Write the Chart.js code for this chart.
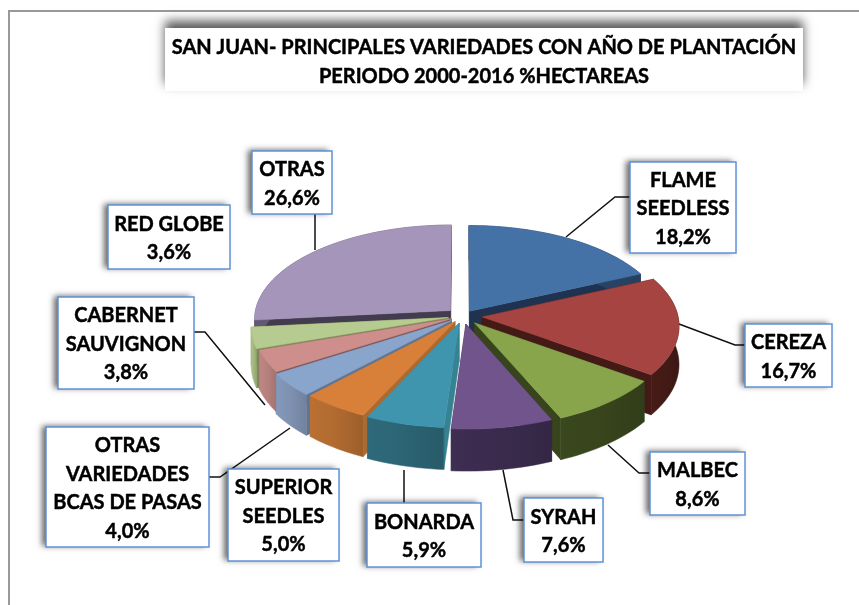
<!DOCTYPE html>
<html><head><meta charset="utf-8">
<style>html,body{margin:0;padding:0;background:#fff}#w{width:859px;height:605px;position:relative}</style>
<script src="https://cdn.jsdelivr.net/npm/chart.js@4"></script></head>
<body><div id="w"><canvas id="c"></canvas></div>
<script>
// --- data ---
const categories = ["FLAME SEEDLESS","CEREZA","MALBEC","SYRAH","BONARDA","SUPERIOR SEEDLES","OTRAS VARIEDADES BCAS DE PASAS","CABERNET SAUVIGNON","RED GLOBE","OTRAS"];
const values = [18.2,16.7,8.6,7.6,5.9,5.0,4.0,3.8,3.6,26.6];
const titleLines = ["SAN JUAN- PRINCIPALES VARIEDADES CON AÑO DE PLANTACIÓN","PERIODO 2000-2016 %HECTAREAS"];
const labelLines = [["FLAME","SEEDLESS"],["CEREZA"],["MALBEC"],["SYRAH"],["BONARDA"],["SUPERIOR","SEEDLES"],["OTRAS","VARIEDADES","BCAS DE PASAS"],["CABERNET","SAUVIGNON"],["RED GLOBE"],["OTRAS"]];
// --- styles ---
const topColors  = ["#4471a6","#a54441","#88a54c","#71548c","#3f94ae","#d8803a","#8aa5cc","#cd8e8c","#b5cb8f","#a695bb"];
const wallColors = ["#2b476b","#431a16","#37441c","#3a2b4d","#2c6473","#b06a30","#7d90b0","#b57f7c","#a3b67f","#5e5370"];
const cutColors  = ["#1f3350","#431a16","#37441c","#33253f","#368292","#ad6a30","#5f7492","#7d5755","#7a8c55","#433b4e"];
const offsets    = [12,19,18,17,15,14,15,13,15,17];
// label boxes: x0,y0,x1,y1
const boxes = [[630,162,736,253],[745,324,832,387],[650,452,745,515],[524,498,603,562],[367,503,481,567],[228,469,339,561],[46,427,209,547],[58,297,194,389],[108,205,230,269],[252,151,332,214]];
const leaders = [[[566,237],[615,197],[630,197]],[[679,324],[735,345],[745,345]],[[608,445],[639,473],[650,473]],[[503,470],[513,520],[524,520]],[[404,470],[404,503]],null,[[290,428],[220,477],[209,477]],[[265,405],[205,332],[194,332]],null,[[315,250],[315,214]]];
const LABEL_FONT = 'bold 20px Lato, "Open Sans", sans-serif';
const TITLE_FONT = 'bold 20px Lato, "Open Sans", sans-serif';

const K = 0.48, Q = 0.09/198, DEPTH = 38;
function pct(v){return v.toFixed(1).replace('.',',')+'%';}
function shade(hex,f){const n=parseInt(hex.slice(1),16);const c=[n>>16,(n>>8)&255,n&255].map(v=>Math.min(255,Math.round(v*f)));return `rgb(${c[0]},${c[1]},${c[2]})`;}
function heavyText(ctx,t,x,y){ctx.fillText(t,x,y);ctx.lineWidth=0.45;ctx.strokeStyle='#000';ctx.strokeText(t,x,y);}

const pie3d = {
  id:'pie3d',
  beforeDatasetDraw(chart,args){
    const ctx = chart.ctx, meta = chart.getDatasetMeta(args.index);
    // leaders behind the pie
    ctx.save();ctx.strokeStyle='#111';ctx.lineWidth=1.5;
    leaders.forEach(l=>{if(!l)return;ctx.beginPath();l.forEach((p,i)=>i?ctx.lineTo(p[0],p[1]):ctx.moveTo(p[0],p[1]));ctx.stroke();});
    ctx.restore();
    const order = meta.data.map((el,i)=>i).sort((a,b)=>{
      const m=e=>Math.sin((e.startAngle+e.endAngle)/2);
      return m(meta.data[a])-m(meta.data[b]);
    });
    order.forEach(i=>{
      const el = meta.data[i], cx = el.x, cy = el.y, R = el.outerRadius;
      const mid = (el.startAngle+el.endAngle)/2, off = el.options.offset;
      const ox = Math.cos(mid)*off, oy = Math.sin(mid)*off;
      const P = (X,Y,d)=>{const w=1/(1-Q*Y);return [cx+X*w, cy+K*Y*w+(d||0)*w];};
      const pts = (d)=>{const a=[];const n=Math.max(4,Math.ceil((el.endAngle-el.startAngle)/0.03));
        for(let s=0;s<=n;s++){const t=el.startAngle+(el.endAngle-el.startAngle)*s/n;a.push(P(ox+R*Math.cos(t),oy+R*Math.sin(t),d));}return a;};
      const poly = (a,fill)=>{ctx.beginPath();a.forEach((p,j)=>j?ctx.lineTo(p[0],p[1]):ctx.moveTo(p[0],p[1]));ctx.closePath();ctx.fillStyle=fill;ctx.fill();ctx.strokeStyle=fill;ctx.lineWidth=0.5;ctx.stroke();};
      const top = pts(0), bot = pts(DEPTH), A = P(ox,oy,0), B = P(ox,oy,DEPTH);
      poly([A,top[0],bot[0],B],cutColors[i]);
      poly([A,top[top.length-1],bot[bot.length-1],B],cutColors[i]);
      const xs = top.map(p=>p[0]), x0=Math.min(...xs), x1=Math.max(...xs);
      const g = ctx.createLinearGradient(x0,0,x1,0);
      g.addColorStop(0,shade(wallColors[i],1.06));g.addColorStop(0.5,wallColors[i]);g.addColorStop(1,shade(wallColors[i],0.9));
      poly(top.concat(bot.slice().reverse()),g);
      poly([A].concat(top),topColors[i]);
    });
    return false;
  },
  afterDatasetsDraw(chart){
    const ctx = chart.ctx, d = chart.data.datasets[0].data;
    // frame
    ctx.save();
    ctx.strokeStyle='#999';ctx.lineWidth=2;
    ctx.beginPath();ctx.moveTo(9,606);ctx.lineTo(9,11);ctx.lineTo(860,11);ctx.stroke();
    // title box
    ctx.save();ctx.shadowColor='rgba(0,0,0,0.65)';ctx.shadowBlur=10;ctx.shadowOffsetY=-7;ctx.shadowOffsetX=0;
    ctx.fillStyle='#fff';ctx.fillRect(165,28,638,63);ctx.restore();
    ctx.fillStyle='#000';ctx.textAlign='center';ctx.textBaseline='middle';ctx.font=TITLE_FONT;
    titleLines.forEach((t,i)=>heavyText(ctx,t,484,48+i*29));
    // label boxes
    boxes.forEach((b,i)=>{
      ctx.save();ctx.shadowColor='rgba(0,0,0,0.6)';ctx.shadowBlur=6;ctx.shadowOffsetX=-4;ctx.shadowOffsetY=-1;
      ctx.fillStyle='#fff';ctx.fillRect(b[0],b[1],b[2]-b[0],b[3]-b[1]);ctx.restore();
      ctx.strokeStyle='#5f93d8';ctx.lineWidth=1.5;ctx.strokeRect(b[0],b[1],b[2]-b[0],b[3]-b[1]);
      const lines = labelLines[i].concat([pct(d[i])]);
      const cy=(b[1]+b[3])/2+1.5, cx=(b[0]+b[2])/2;
      ctx.fillStyle='#000';ctx.font=LABEL_FONT;
      lines.forEach((t,j)=>{heavyText(ctx,t,cx,cy+(j-(lines.length-1)/2)*28.5);ctx.strokeStyle='#5f93d8';});
    });
    ctx.restore();
  }
};
new Chart(document.getElementById('c'),{
  type:'pie',
  data:{labels:categories,datasets:[{data:values,backgroundColor:topColors,offset:offsets,borderWidth:0}]},
  options:{responsive:true,maintainAspectRatio:false,animation:false,radius:196,
    layout:{padding:{left:67,top:27}},
    plugins:{legend:{display:false},title:{display:false},tooltip:{enabled:false}}},
  plugins:[pie3d]
});
</script></body></html>
